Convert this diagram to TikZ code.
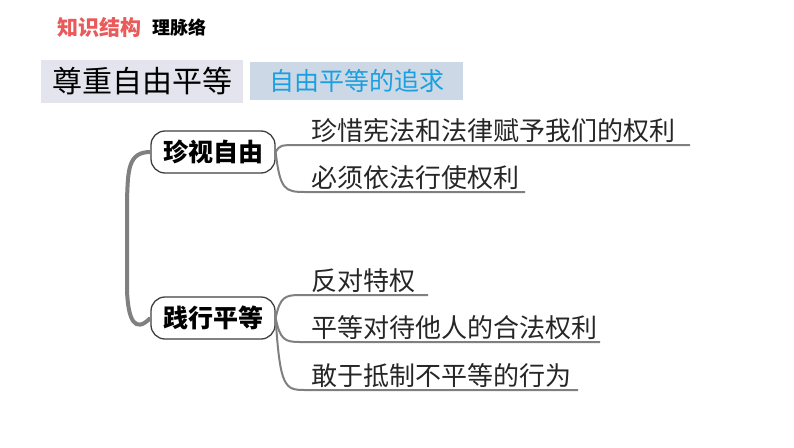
\documentclass[tikz,border=0pt]{standalone}
\usepackage{fontspec}
\newfontfamily\cjk{Noto Sans CJK SC}
\begin{document}
\begin{tikzpicture}[x=1pt,y=-1pt,
  topic/.style={draw=black!75,line width=1.3pt,rounded corners=14pt,minimum width=124pt,minimum height=42pt,inner sep=1pt,font=\cjk\fontsize{25}{26}\selectfont\bfseries},
  leaf/.style={font=\cjk\fontsize{26}{28}\selectfont,anchor=south west,inner sep=0pt,text=black!85},
  br/.style={draw=black!50,line width=2pt},
  trunk/.style={draw=black!50,line width=4pt}]
\useasboundingbox (0,0) rectangle (794,447);
\fill[white] (0,0) rectangle (794,447);
\node[anchor=west,text={rgb,255:red,235;green,90;blue,90},font=\cjk\fontsize{21}{22}\selectfont\bfseries,inner sep=0] (h1) at (57,27) {知识结构};
\node[anchor=west,font=\cjk\fontsize{18}{19}\selectfont\bfseries,inner sep=0] (h2) at (152,28) {理脉络};
\node[fill={rgb,255:red,228;green,228;blue,238},minimum width=202pt,minimum height=43pt,inner sep=0,font=\cjk\fontsize{30}{32}\selectfont] (b1) at (142,81.5) {尊重自由平等};
\node[fill={rgb,255:red,205;green,216;blue,230},minimum width=213pt,minimum height=38pt,inner sep=0,text={rgb,255:red,26;green,160;blue,224},font=\cjk\fontsize{25}{27}\selectfont] (b2) at (356.5,81) {自由平等的追求};
\node[topic] (t1) at (213,152) {珍视自由};
\node[topic] (t2) at (213,318) {践行平等};
\draw[trunk] (t1.west) .. controls (128,152) and (128,170) .. (127,200) -- (127,290) .. controls (128,320) and (135,334) .. (t2.west);
\coordinate (a1) at (690,145);
\coordinate (a2) at (525,192);
\draw[br] (t1.east) .. controls (280,145) .. (300,145) -- (a1);
\draw[br] (t1.east) .. controls (280,190) and (285,192) .. (305,192) -- (a2);
\node[leaf] (l1) at (311,143) {珍惜宪法和法律赋予我们的权利};
\node[leaf] (l2) at (311,190) {必须依法行使权利};
\coordinate (c1) at (428,295);
\coordinate (c2) at (600,342);
\coordinate (c3) at (578,390);
\draw[br] (t2.east) .. controls (280,297) and (285,295) .. (300,295) -- (c1);
\draw[br] (t2.east) .. controls (280,340) and (285,342) .. (300,342) -- (c2);
\draw[br] (t2.east) .. controls (280,388) and (285,390) .. (305,390) -- (c3);
\node[leaf] (m1) at (311,293) {反对特权};
\node[leaf] (m2) at (311,340) {平等对待他人的合法权利};
\node[leaf] (m3) at (311,388) {敢于抵制不平等的行为};
\end{tikzpicture}
\end{document}
